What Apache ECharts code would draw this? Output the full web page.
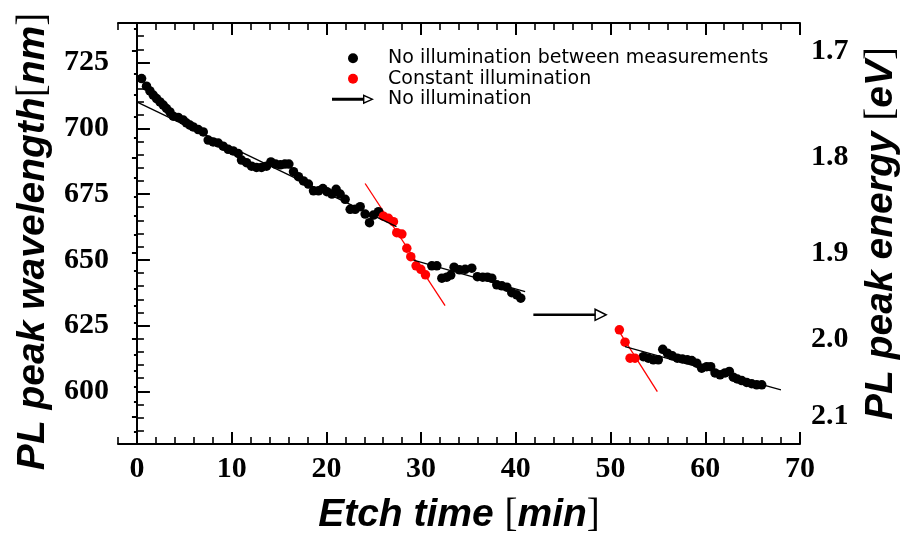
<!DOCTYPE html>
<html>
<head>
<meta charset="utf-8">
<script src="https://cdn.jsdelivr.net/npm/echarts@6/dist/echarts.min.js"></script>
<style>html,body{margin:0;padding:0;background:#fff;}#chart{width:904px;height:533px;}</style>
</head>
<body>
<div id="chart"></div>
<script>
// ---- data (etch time [min], PL peak wavelength [nm]) ----
const blackPoints = [
  [0.49,718.9],[1.01,716.0],[1.37,714.2],[1.72,712.6],[2.07,711.3],[2.43,710.0],[2.78,708.8],
  [3.12,707.5],[3.48,706.2],[3.83,704.6],[4.36,704.1],[4.89,703.1],[5.23,702.0],[5.59,701.2],
  [5.94,700.5],[6.47,699.5],[7.0,698.6],[7.52,695.5],[8.05,694.8],[8.58,694.4],[9.1,693.2],
  [9.63,692.0],[10.16,691.4],[10.69,690.4],[11.04,687.9],[11.57,686.9],[12.1,685.6],[12.62,685.1],
  [13.15,685.1],[13.68,685.6],[14.14,687.2],[14.63,686.4],[15.15,686.1],[15.62,686.4],[16.04,686.4],
  [16.53,683.5],[17.05,681.6],[17.58,680.0],[18.1,678.8],[18.64,676.2],[19.17,676.2],[19.63,677.1],
  [20.05,675.9],[20.58,675.0],[21.03,676.8],[21.45,675.0],[21.98,673.0],[22.51,669.2],[23.04,669.2],
  [23.57,670.2],[24.09,667.4],[24.55,664.1],[24.97,667.0],[25.5,668.3],
  [31.13,647.7],[31.66,647.7],[32.19,643.0],[32.71,643.4],[33.13,644.2],[33.48,647.2],[34.05,646.2],
  [34.65,646.4],[35.35,646.8],[35.94,643.6],[36.51,643.4],[37.0,643.4],[37.46,643.0],[37.99,640.5],
  [38.52,640.1],[39.05,639.6],[39.57,637.5],[40.1,636.7],[40.52,635.4],
  [53.46,613.2],[53.99,612.6],[54.52,612.0],[55.04,612.0],[55.51,616.0],[56.0,614.5],[56.52,613.5],
  [57.05,612.6],[57.58,612.3],[58.1,612.0],[58.57,611.7],[59.1,610.7],[59.62,608.8],[60.15,609.4],
  [60.57,609.4],[61.03,607.0],[61.56,606.3],[62.08,607.0],[62.54,607.6],[62.96,605.4],[63.38,604.7],
  [63.85,604.1],[64.37,603.4],[64.9,602.9],[65.43,602.5],[65.96,602.5]
];
const redPoints = [
  [26.02,666.6],[26.55,665.8],[27.08,664.5],[27.43,660.3],[27.97,659.8],[28.49,654.4],
  [28.91,651.2],[29.47,647.7],[29.97,646.4],[30.46,644.3],
  [50.93,623.4],[51.53,618.7],[52.06,612.6],[52.58,612.6]
];
const blackFit1 = [[0.03,709.9],[27.4,662.6]];
const blackFit2 = [[29.19,649.9],[40.98,637.9]];
const blackFit3 = [[51.53,617.0],[67.99,600.6]];
const redFit1 = [[24.09,679.0],[32.53,632.6]];
const redFit2 = [[50.8,623.4],[54.94,599.9]];
const arrowStart = [41.85,629.1];
const arrowEnd = [48.95,629.1];

// ---- axis ticks ----
const xMajorTicks = [0,10,20,30,40,50,60,70];
const yMajorTicks = [600,625,650,675,700,725];
const energyMajorTicks = [1.7,1.8,1.9,2.0,2.1];
const energyMinorTicks = [1.68,1.70,1.72,1.74,1.76,1.78,1.80,1.82,1.84,1.86,1.88,1.90,1.92,1.94,1.96,1.98,2.00,2.02,2.04,2.06,2.08,2.10,2.12];
const HC = 1239.84; // eV*nm
const toNm = e => HC / e;

const seriesNames = ['No illumination between measurements','Constant illumination','No illumination'];

const X_MIN = -2, X_MAX = 70, Y_MIN = 580, Y_MAX = 740;
const lblFont = {fontFamily:'Liberation Serif', fontWeight:'bold', fontSize:30, color:'#000'};
const NAME_SIZE = 39;
function nameStyle(pad){
  return {
    fontFamily:'Liberation Sans', fontWeight:'bold', fontStyle:'italic', fontSize:NAME_SIZE, color:'#000',
    padding:pad,
    rich:{
      a:{fontFamily:'Liberation Sans', fontWeight:'bold', fontStyle:'italic', fontSize:NAME_SIZE, color:'#000'},
      b:{fontFamily:'Liberation Serif', fontWeight:'normal', fontStyle:'normal', fontSize:NAME_SIZE, color:'#000'}
    }
  };
}
const axLine = {show:true, lineStyle:{color:'#000', width:2}};

function xAx(pos, major){
  const isMainBottom = major && pos === 'bottom';
  return {
    type:'value', position:pos, min:X_MIN, max:X_MAX,
    interval: major ? undefined : 2,
    axisLine: major ? {show:false} : axLine,
    axisTick: major ? {show:true, inside:true, length:12, customValues:xMajorTicks, lineStyle:{color:'#000', width:2}}
                    : {show:true, inside:true, length:7, lineStyle:{color:'#000', width:1.6}},
    axisLabel: isMainBottom ? Object.assign({show:true, margin:10, customValues:xMajorTicks}, lblFont) : {show:false},
    splitLine:{show:false},
    name: isMainBottom ? '{a|Etch time }{b|[}{a|min}{b|]}' : '',
    nameLocation:'middle', nameGap:52,
    nameTextStyle: isMainBottom ? nameStyle([0,0,0,0]) : {}
  };
}

const option = {
  animation:false,
  backgroundColor:'#fff',
  grid:{left:118, right:104, top:23, bottom:89, containLabel:false, outerBoundsMode:'none'},
  xAxis:[xAx('bottom',false), xAx('bottom',true), xAx('top',false), xAx('top',true)],
  yAxis:[
    {type:'value', position:'left', min:Y_MIN, max:Y_MAX, interval:5, axisLine:axLine,
     axisTick:{show:true, inside:true, length:7, lineStyle:{color:'#000', width:1.6}},
     axisLabel:{show:false}, splitLine:{show:false}},
    {type:'value', position:'left', min:Y_MIN, max:Y_MAX, axisLine:{show:false},
     axisTick:{show:true, inside:true, length:13, customValues:yMajorTicks, lineStyle:{color:'#000', width:2}},
     axisLabel:Object.assign({show:true, margin:9, customValues:yMajorTicks}, lblFont),
     splitLine:{show:false},
     name:'{a|PL peak wavelength}{b|[}{a|nm}{b|]}', nameLocation:'middle', nameGap:58, nameRotate:90,
     nameTextStyle:nameStyle([0,16,0,0])},
    {type:'value', position:'right', min:Y_MIN, max:Y_MAX, axisLine:axLine,
     axisTick:{show:true, inside:true, length:3, customValues:energyMinorTicks.map(toNm), lineStyle:{color:'#000', width:2}},
     axisLabel:{show:false}, splitLine:{show:false}},
    {type:'value', position:'right', min:Y_MIN, max:Y_MAX, axisLine:{show:false},
     axisTick:{show:true, inside:true, length:5, customValues:energyMajorTicks.map(toNm), lineStyle:{color:'#000', width:2}},
     axisLabel:Object.assign({show:true, margin:11, customValues:energyMajorTicks.map(toNm),
       formatter:v => (HC / v).toFixed(1)}, lblFont),
     splitLine:{show:false},
     name:'{a|PL peak energy }{b|[}{a|eV}{b|]}', nameLocation:'middle', nameGap:62, nameRotate:90,
     nameTextStyle:nameStyle([0,0,0,0])}
  ],
  legend:{
    orient:'vertical', left:327, top:43, itemWidth:44, itemHeight:10, itemGap:0,
    selectedMode:false,
    data:[
      {name:seriesNames[0], icon:'circle', itemStyle:{color:'#000', borderWidth:0, opacity:1}},
      {name:seriesNames[1], icon:'circle', itemStyle:{color:'#ff0000', borderWidth:0, opacity:1}},
      {name:seriesNames[2], icon:'path://M0,3.5L31,3.5L31,6.5L0,6.5Z M31,0L42,5L31,10Z M32.4,2.3L32.4,7.7L38.8,5Z', itemStyle:{color:'#000', borderWidth:0}}
    ],
    textStyle:{fontFamily:'DejaVu Sans', fontSize:19, color:'#000', lineHeight:20.5, padding:[0,0,0,8]}
  },
  series:[
    {name:seriesNames[0], type:'scatter', xAxisIndex:0, yAxisIndex:0, data:blackPoints,
     symbol:'circle', symbolSize:9.5, itemStyle:{color:'#000', opacity:1}, z:2},
    {name:seriesNames[1], type:'scatter', xAxisIndex:0, yAxisIndex:0, data:redPoints,
     symbol:'circle', symbolSize:9.5, itemStyle:{color:'#ff0000', opacity:1}, z:2},
    {name:'fitB1', type:'line', data:blackFit1, showSymbol:false, lineStyle:{color:'#000', width:1.3}, itemStyle:{color:'#000'}, silent:true, z:3},
    {name:'fitB2', type:'line', data:blackFit2, showSymbol:false, lineStyle:{color:'#000', width:1.3}, itemStyle:{color:'#000'}, silent:true, z:3},
    {name:'fitB3', type:'line', data:blackFit3, showSymbol:false, lineStyle:{color:'#000', width:1.3}, itemStyle:{color:'#000'}, silent:true, z:3},
    {name:'fitR1', type:'line', data:redFit1, showSymbol:false, lineStyle:{color:'#ff0000', width:1.3}, itemStyle:{color:'#ff0000'}, silent:true, z:1},
    {name:'fitR2', type:'line', data:redFit2, showSymbol:false, lineStyle:{color:'#ff0000', width:1.3}, itemStyle:{color:'#ff0000'}, silent:true, z:1},
    {name:seriesNames[2], type:'line', xAxisIndex:0, yAxisIndex:0, z:3,
     lineStyle:{color:'#000', width:2.6}, itemStyle:{color:'#000'},
     data:[
       {value:arrowStart, symbol:'none'},
       {value:arrowEnd, symbol:'triangle', symbolSize:[11,11], symbolRotate:-90,
        itemStyle:{color:'#fff', borderColor:'#000', borderWidth:1.5}}
     ]}
  ]
};

const chart = echarts.init(document.getElementById('chart'), null, {renderer:'canvas'});
chart.setOption(option);
</script>
</body>
</html>
